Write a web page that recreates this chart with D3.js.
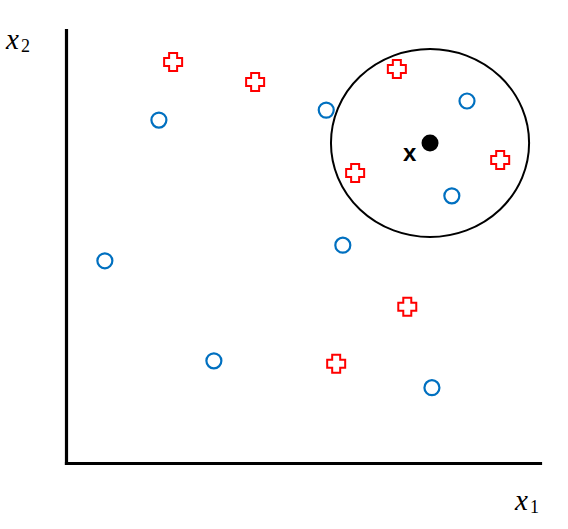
<!DOCTYPE html>
<html>
<head>
<meta charset="utf-8">
<script src="https://cdn.jsdelivr.net/npm/d3@7"></script>
<style>
  html, body { margin: 0; padding: 0; background: #fff; }
  svg { display: block; }
</style>
</head>
<body>
<svg id="chart" width="568" height="529"></svg>
<script>
// Class "+" (red crosses): [x1, x2]
const crossX = [22.6, 39.9, 69.8, 61.0, 91.6, 72.0, 57.0];
const crossY = [92.6, 88.0, 91.0, 67.0, 70.0, 36.1, 22.9];
// Class "o" (blue circles): [x1, x2]
const circleX = [19.6, 54.9, 84.6, 81.4, 58.4, 8.2, 31.2, 77.2];
const circleY = [79.2, 81.5, 83.6, 61.7, 50.3, 46.7, 23.6, 17.4];
// Query point and its neighbourhood radii
const queryPoint = [76.8, 73.9];
const queryLabel = "x";
const neighbourRadiusX = 20.9;
const neighbourRadiusY = 21.7;
const axisLabelX = ["x", "1"];
const axisLabelY = ["x", "2"];

const svg = d3.select("#chart");
const x = d3.scaleLinear().domain([0, 100]).range([66, 540]);
const y = d3.scaleLinear().domain([0, 100]).range([463, 30]);

// Axes (lines only, no ticks)
const xAxis = d3.axisBottom(x).tickValues([]).tickSizeOuter(0);
const yAxis = d3.axisLeft(y).tickValues([]).tickSizeOuter(0);
const gx = svg.append("g").attr("transform", `translate(0,${y(0)})`).call(xAxis);
const gy = svg.append("g").attr("transform", `translate(${x(0)},0)`).call(yAxis);
[gx, gy].forEach(g => g.select(".domain")
  .attr("stroke", "#000").attr("stroke-width", 3.2).attr("stroke-linecap", "square"));

// Neighbourhood circle
svg.append("ellipse")
  .attr("cx", x(queryPoint[0]))
  .attr("cy", y(queryPoint[1]))
  .attr("rx", x(neighbourRadiusX) - x(0))
  .attr("ry", y(0) - y(neighbourRadiusY))
  .attr("fill", "none")
  .attr("stroke", "#000")
  .attr("stroke-width", 2);

// Blue circles
svg.append("g").selectAll("circle")
  .data(circleX.map((v, i) => [v, circleY[i]]))
  .join("circle")
  .attr("cx", d => x(d[0]))
  .attr("cy", d => y(d[1]))
  .attr("r", 7.5)
  .attr("fill", "none")
  .attr("stroke", "#0070C0")
  .attr("stroke-width", 2.2);

// Red crosses (outlined plus)
const s = 9, a = 4;
const plusPath = `M${-a},${-s}H${a}V${-a}H${s}V${a}H${a}V${s}H${-a}V${a}H${-s}V${-a}H${-a}Z`;
svg.append("g").selectAll("path")
  .data(crossX.map((v, i) => [v, crossY[i]]))
  .join("path")
  .attr("d", plusPath)
  .attr("transform", d => `translate(${x(d[0])},${y(d[1])})`)
  .attr("fill", "#fff")
  .attr("stroke", "#FF0000")
  .attr("stroke-width", 2);

// Query point
svg.append("circle")
  .attr("cx", x(queryPoint[0]))
  .attr("cy", y(queryPoint[1]))
  .attr("r", 8.5)
  .attr("fill", "#000");
svg.append("text")
  .attr("x", x(queryPoint[0]) - 27)
  .attr("y", y(queryPoint[1]) + 17.5)
  .attr("font-family", "Liberation Sans, Arial, sans-serif")
  .attr("font-weight", "bold")
  .attr("font-size", 24)
  .attr("fill", "#000")
  .text(queryLabel);

// Axis labels (math style)
function mathLabel(px, py, parts) {
  const t = svg.append("text")
    .attr("x", px).attr("y", py)
    .attr("font-family", "Liberation Serif, DejaVu Serif, serif")
    .attr("fill", "#000");
  t.append("tspan").attr("font-style", "italic").attr("font-size", 29).text(parts[0]);
  t.append("tspan").attr("font-size", 18).attr("dx", 2).attr("dy", 3).text(parts[1]);
}
mathLabel(6, 49, axisLabelY);
mathLabel(515, 510, axisLabelX);
</script>
</body>
</html>
